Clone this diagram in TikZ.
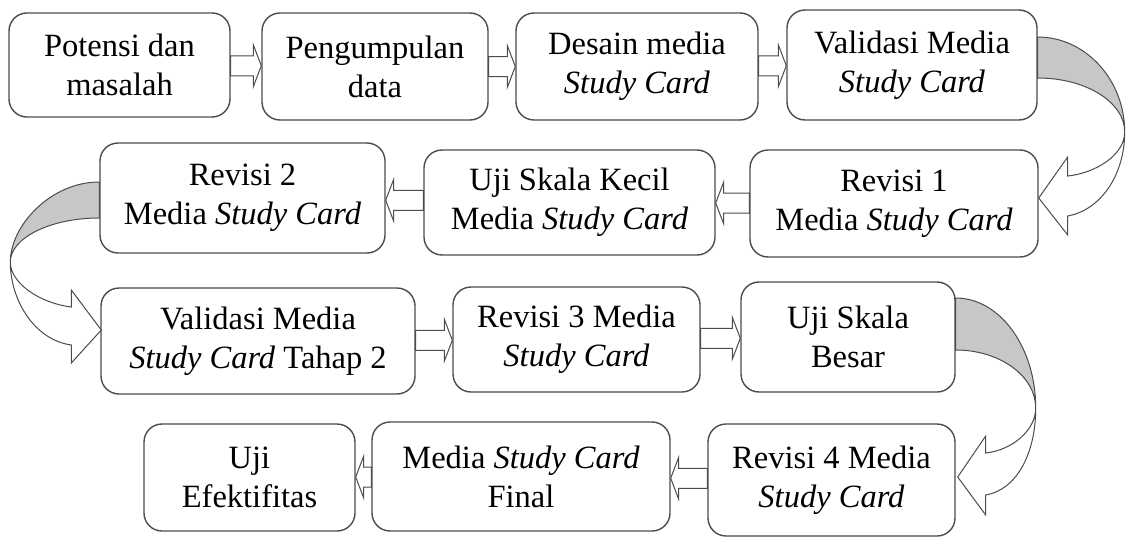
\documentclass[tikz,border=0pt]{standalone}
\usepackage{fontspec}
\setmainfont{Liberation Serif}
\usetikzlibrary{calc}

\tikzset{
  stage/.style={draw=black!70, line width=1.4pt, rounded corners=18pt, fill=white,
    align=center, inner sep=2pt, font=\fontsize{32.5}{39}\selectfont},
  blockarrow/.style={draw=black!70, line width=1pt, fill=white,
    to path={let \p1=(\tikztostart), \p2=(\tikztotarget),
      \n1={sign(\x2-\x1)}, \n2={(\y1+\y2)/2} in
      (\x1,{\n2*1pt+10pt}) -- ({\x2-\n1*8pt},{\n2*1pt+10pt})
      -- ({\x2-\n1*8pt},{\n2*1pt+21pt}) -- (\x2,{\n2*1pt})
      -- ({\x2-\n1*8pt},{\n2*1pt-21pt}) -- ({\x2-\n1*8pt},{\n2*1pt-10pt})
      -- (\x1,{\n2*1pt-10pt}) -- cycle}},
  turnback/.style={draw=black!70, line width=1pt, fill=black!22},
  turnfront/.style={draw=black!70, line width=1pt, fill=white}
}

\newcommand{\stc}{\textit{Study Card}}

\begin{document}
\begin{tikzpicture}[x=1pt, y=-1pt]
\useasboundingbox (0,0) rectangle (1127,538);

% row 1
\node[stage, minimum width=221pt, minimum height=104pt] (b1) at (119.5,65) {Potensi dan\\masalah};
\node[stage, minimum width=226pt, minimum height=107pt] (b2) at (375,66.5) {Pengumpulan\\data};
\node[stage, minimum width=242pt, minimum height=107pt] (b3) at (637,66.5) {Desain media\\\stc};
\node[stage, minimum width=250pt, minimum height=110pt] (b4) at (912,65) {Validasi Media\\\stc};
% row 2
\node[stage, minimum width=288pt, minimum height=107pt] (b5) at (894,203.5) {Revisi 1\\Media \stc};
\node[stage, minimum width=291pt, minimum height=105pt] (b6) at (569.5,202.5) {Uji Skala Kecil\\Media \stc};
\node[stage, minimum width=285pt, minimum height=110pt] (b7) at (242.5,198) {Revisi 2\\Media \stc};
% row 3
\node[stage, minimum width=314pt, minimum height=106pt] (b8) at (258,341) {Validasi Media\\\stc{} Tahap 2};
\node[stage, minimum width=247pt, minimum height=105pt] (b9) at (576.5,339.5) {Revisi 3 Media\\\stc};
\node[stage, minimum width=214pt, minimum height=110pt] (b10) at (848,337) {Uji Skala\\Besar};
% row 4
\node[stage, minimum width=247pt, minimum height=112pt] (b11) at (831.5,480) {Revisi 4 Media\\\stc};
\node[stage, minimum width=298pt, minimum height=109pt] (b12) at (521,476.5) {Media \stc\\Final};
\node[stage, minimum width=211pt, minimum height=107pt] (b13) at (249.5,477.5) {Uji\\Efektifitas};

% straight block arrows
\draw[blockarrow] (b1.east) to (b2.west);
\draw[blockarrow] (b2.east) to (b3.west);
\draw[blockarrow] (b3.east) to (b4.west);
\draw[blockarrow] (b5.west) to (b6.east);
\draw[blockarrow] (b6.west) to (b7.east);
\draw[blockarrow] (b8.east) to (b9.west);
\draw[blockarrow] (b9.east) to (b10.west);
\draw[blockarrow] (b11.west) to (b12.east);
\draw[blockarrow] (b12.west) to (b13.east);

% U-turn arrow: row 1 -> row 2 (right side)
\begin{scope}[shift={(b4.east)}]
  \draw[turnback] (0,-28) .. controls (48,-28) and (87,15) .. (87,67)
    .. controls (87,37) and (48,13) .. (0,13) -- cycle;
  \draw[turnfront] (87,67) .. controls (87,90) and (58,108) .. (30,111)
    -- (30,92) -- (1,133) -- (30,170) -- (30,151)
    .. controls (63,145) and (87,110) .. (87,67) -- cycle;
\end{scope}

% U-turn arrow: row 2 -> row 3 (left side)
\begin{scope}[shift={(b7.west)}]
  \draw[turnback] (0,-16) .. controls (-49,-16) and (-89,28) .. (-89,64)
    .. controls (-89,40) and (-49,20) .. (0,20) -- cycle;
  \draw[turnfront] (-89,64) .. controls (-89,85) and (-60,105) .. (-28,109)
    -- (-28,92) -- (2,132) -- (-28,165) -- (-28,147)
    .. controls (-65,142) and (-89,102) .. (-89,64) -- cycle;
\end{scope}

% U-turn arrow: row 3 -> row 4 (right side)
\begin{scope}[shift={(b10.east)}]
  \draw[turnback] (0,-39) .. controls (44,-39) and (80,10) .. (80,71)
    .. controls (80,39) and (44,13) .. (0,13) -- cycle;
  \draw[turnfront] (80,71) .. controls (80,93) and (57,113) .. (30,116)
    -- (30,99) -- (2,140) -- (30,178) -- (30,158)
    .. controls (60,153) and (80,118) .. (80,71) -- cycle;
\end{scope}
\end{tikzpicture}
\end{document}
